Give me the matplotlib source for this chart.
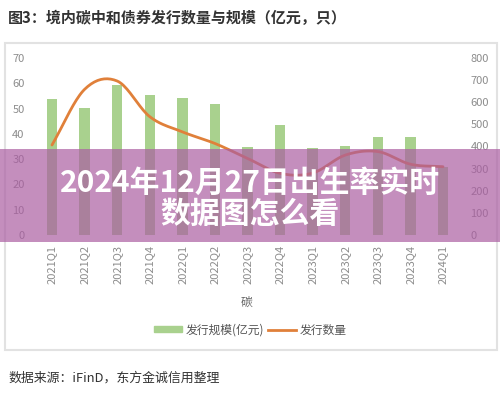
import numpy as np
import matplotlib
matplotlib.use("Agg")
import matplotlib.pyplot as plt
from matplotlib.patches import Rectangle

plt.rcParams["font.family"] = ["Noto Sans CJK SC", "DejaVu Sans"]
plt.rcParams["axes.unicode_minus"] = False

# ── 数据 ──────────────────────────────────────
quarters = ["2021Q1", "2021Q2", "2021Q3", "2021Q4",
            "2022Q1", "2022Q2", "2022Q3", "2022Q4",
            "2023Q1", "2023Q2", "2023Q3", "2023Q4", "2024Q1"]
scale_yi = [615, 574, 677, 634, 621, 590, 399, 497, 394, 403, 445, 441, 309]   # 发行规模(亿元), 右轴
count_n = [35.6, 57.6, 60.9, 46.8, 40.8, 36.2, 30.3, 24.4, 24.5, 31.6, 33.0, 28.0, 27.0]  # 发行数量, 左轴

left_ticks = list(range(0, 71, 10))
right_ticks = list(range(0, 801, 100))

TITLE = "图3：境内碳中和债券发行数量与规模（亿元，只）"
SOURCE = "数据来源：iFinD，东方金诚信用整理"
BANNER = ["2024年12月27日出生率实时", "数据图怎么看"]

GREEN = "#a9d18e"
ORANGE = "#e0803a"
GRAY = "#8c8c8c"

W, H = 500, 395


def px(x0, y0, x1, y1):
    """像素坐标(左上为原点) → figure 比例 [l, b, w, h]"""
    return [x0 / W, 1 - y1 / H, (x1 - x0) / W, (y1 - y0) / H]


def smooth(xs, ys, n=20):
    # Catmull-Rom 平滑 (仿 Excel 平滑线)
    xs = np.asarray(xs, float)
    ys = np.asarray(ys, float)
    px_ = np.concatenate([[2 * xs[0] - xs[1]], xs, [2 * xs[-1] - xs[-2]]])
    py_ = np.concatenate([[2 * ys[0] - ys[1]], ys, [2 * ys[-1] - ys[-2]]])
    ox, oy = [], []
    t = np.linspace(0, 1, n, endpoint=False)
    for i in range(1, len(px_) - 2):
        for arr, out in ((px_, ox), (py_, oy)):
            p0, p1, p2, p3 = arr[i - 1], arr[i], arr[i + 1], arr[i + 2]
            out.extend(0.5 * ((2 * p1) + (-p0 + p2) * t
                              + (2 * p0 - 5 * p1 + 4 * p2 - p3) * t ** 2
                              + (-p0 + 3 * p1 - 3 * p2 + p3) * t ** 3))
    ox.append(xs[-1])
    oy.append(ys[-1])
    return np.array(ox), np.array(oy)


fig = plt.figure(figsize=(W / 100, H / 100), dpi=100)
fig.patch.set_facecolor("white")

# 外框
fig.patches.append(Rectangle((5 / W, 1 - 350 / H), 492 / W, 307 / H,
                             transform=fig.transFigure, fill=False,
                             edgecolor="#e2e2e2", lw=1.5, zorder=0))

ax = fig.add_axes(px(35.7, 58, 459.3, 235))
ax2 = ax.twinx()
x = np.arange(len(quarters))

ax2.bar(x, scale_yi, width=0.32, color=GREEN, zorder=2)
sx, sy = smooth(x, count_n)
ax.plot(sx, sy, color=ORANGE, lw=2, zorder=3, solid_capstyle="round")
ax.set_zorder(ax2.get_zorder() + 1)
ax.patch.set_visible(False)

ax.set_xlim(-0.5, len(quarters) - 0.5)
ax.set_ylim(0, 70)
ax2.set_ylim(0, 800)
ax.set_yticks(left_ticks)
ax2.set_yticks(right_ticks)
ax.set_xticks(x)
ax.set_xticklabels(quarters, rotation=90)

for a in (ax, ax2):
    for s in a.spines.values():
        s.set_visible(False)
    a.tick_params(length=0, labelsize=8, labelcolor=GRAY)
ax.tick_params(axis="y", pad=8)
ax2.tick_params(axis="y", pad=8)
ax.tick_params(axis="x", pad=7)

# 标题 / 轴标题 / 来源
fig.text(8 / W, 1 - 18 / H, TITLE, fontsize=10.8, fontweight="bold",
         color="#333333", va="center", ha="left")
fig.text(247 / W, 1 - 302 / H, "碳", fontsize=8.5, color="#666666",
         ha="center", va="center")
fig.text(8 / W, 1 - 378 / H, SOURCE, fontsize=9.3, color="#333333",
         ha="left", va="center")

# 图例
h1 = Rectangle((0, 0), 1, 1, color=GREEN)
h2 = plt.Line2D([0], [0], color=ORANGE, lw=2)
fig.legend([h1, h2], ["发行规模(亿元)", "发行数量"], loc="center",
           bbox_to_anchor=(250 / W, 1 - 330 / H), ncol=2, frameon=False,
           fontsize=8.5, handlelength=2.4, handleheight=0.45,
           handletextpad=0.3, columnspacing=0.3, labelcolor="#555555")

# 半透明横幅
fig.patches.append(Rectangle((0, 1 - 242 / H), 1, 93 / H,
                             transform=fig.transFigure, facecolor="#ab5ea2",
                             alpha=0.7, edgecolor="none", zorder=10))
fig.text(0.5, 1 - 183 / H, BANNER[0], fontsize=21.5, fontweight="bold",
         color="white", ha="center", va="center", zorder=11)
fig.text(0.5, 1 - 214 / H, BANNER[1], fontsize=21.5, fontweight="bold",
         color="white", ha="center", va="center", zorder=11)

fig.savefig("out.png", dpi=100, facecolor="white")
